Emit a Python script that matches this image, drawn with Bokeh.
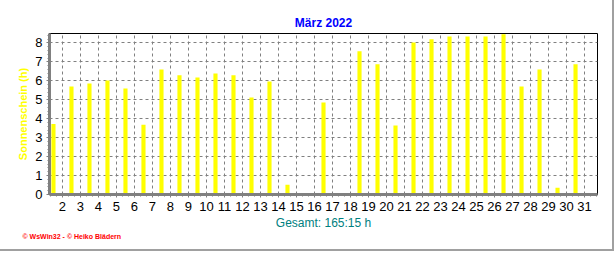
from bokeh.plotting import figure
from bokeh.models import Range1d, FixedTicker, Title, ColumnDataSource
from bokeh.embed import file_html
from bokeh.resources import INLINE

# ---- data ----
days = list(range(1, 32))
sunshine = [3.72, 5.70, 5.86, 6.02, 5.60, 3.68, 6.60, 6.29, 6.18, 6.39,
            6.29, 5.12, 5.97, 0.52, 0.04, 4.86, 0.04, 7.56, 6.87, 3.64,
            8.03, 8.19, 8.34, 8.34, 8.34, 8.46, 5.70, 6.60, 0.35, 6.87, 0.04]
x_tick_labels = [str(d) for d in range(2, 32)]
y_ticks = list(range(0, 9))
title_text = "März 2022"
ylabel_text = "Sonnenschein (h)"
total_text = "Gesamt: 165:15 h"
credit_text = "© WsWin32 - © Heiko Blädern"

FONT = "Liberation Sans"

src = ColumnDataSource(dict(x=[d + 0.5 for d in days], top=sunshine))

p = figure(width=614, height=251, output_backend="svg", toolbar_location=None,
           x_range=Range1d(1.28, 31.72), y_range=Range1d(0, 8.5),
           min_border_left=49, min_border_right=17, min_border_top=33, min_border_bottom=57)
p.styles = {"border-right": "2px solid #A0A0A0", "border-bottom": "2px solid #A0A0A0"}
p.background_fill_color = "white"
p.border_fill_color = "white"
p.outline_line_color = "black"
p.outline_line_width = 1

p.title.text = title_text
p.title.align = "center"
p.title.text_color = "#0000FF"
p.title.text_font = FONT
p.title.text_font_size = "12px"
p.title.text_font_style = "bold"
p.title.standoff = 8

p.vbar(x="x", top="top", width=0.23, bottom=0, source=src,
       fill_color="#FFFF00", line_color=None)

tick_pos = list(range(2, 32))
p.xaxis.ticker = FixedTicker(ticks=tick_pos,
                             minor_ticks=[1 + i / 3 for i in range(1, 93)])
p.xaxis.major_label_overrides = {t: l for t, l in zip(tick_pos, x_tick_labels)}
p.yaxis.ticker = FixedTicker(ticks=y_ticks, minor_ticks=[i * 0.2 for i in range(0, 43)])

for ax in (p.xaxis[0], p.yaxis[0]):
    ax.axis_line_color = "#808080"
    ax.axis_line_width = 3
    ax.major_tick_line_color = "#808080"
    ax.minor_tick_line_color = "#808080"
    ax.major_tick_in = 0
    ax.minor_tick_in = 0
    ax.major_tick_out = 3
    ax.minor_tick_out = 2
    ax.major_label_text_font = FONT
    ax.major_label_text_font_size = "13px"
    ax.major_label_text_color = "black"

p.xaxis.major_label_standoff = 4
p.yaxis.major_label_standoff = 4
p.yaxis.axis_label = ylabel_text
p.yaxis.axis_label_text_color = "#FFFF00"
p.yaxis.axis_label_text_font = FONT
p.yaxis.axis_label_text_font_size = "11px"
p.yaxis.axis_label_text_font_style = "bold"
p.yaxis.axis_label_standoff = 3

p.xgrid.grid_line_color = "#808080"
p.xgrid.grid_line_dash = "3 3"
p.ygrid.grid_line_color = "#808080"
p.ygrid.grid_line_dash = "3 3"

# texts below the frame
p.add_layout(Title(text=total_text, align="center", text_color="#008080",
                   text_font=FONT, text_font_size="12px", text_font_style="normal",
                   standoff=0, offset=32), "below")
p.add_layout(Title(text=credit_text, align="left", text_color="#FF0000",
                   text_font=FONT, text_font_size="7px", text_font_style="bold",
                   standoff=3, offset=-27), "below")

open("out.html", "w").write(file_html(p, INLINE))
